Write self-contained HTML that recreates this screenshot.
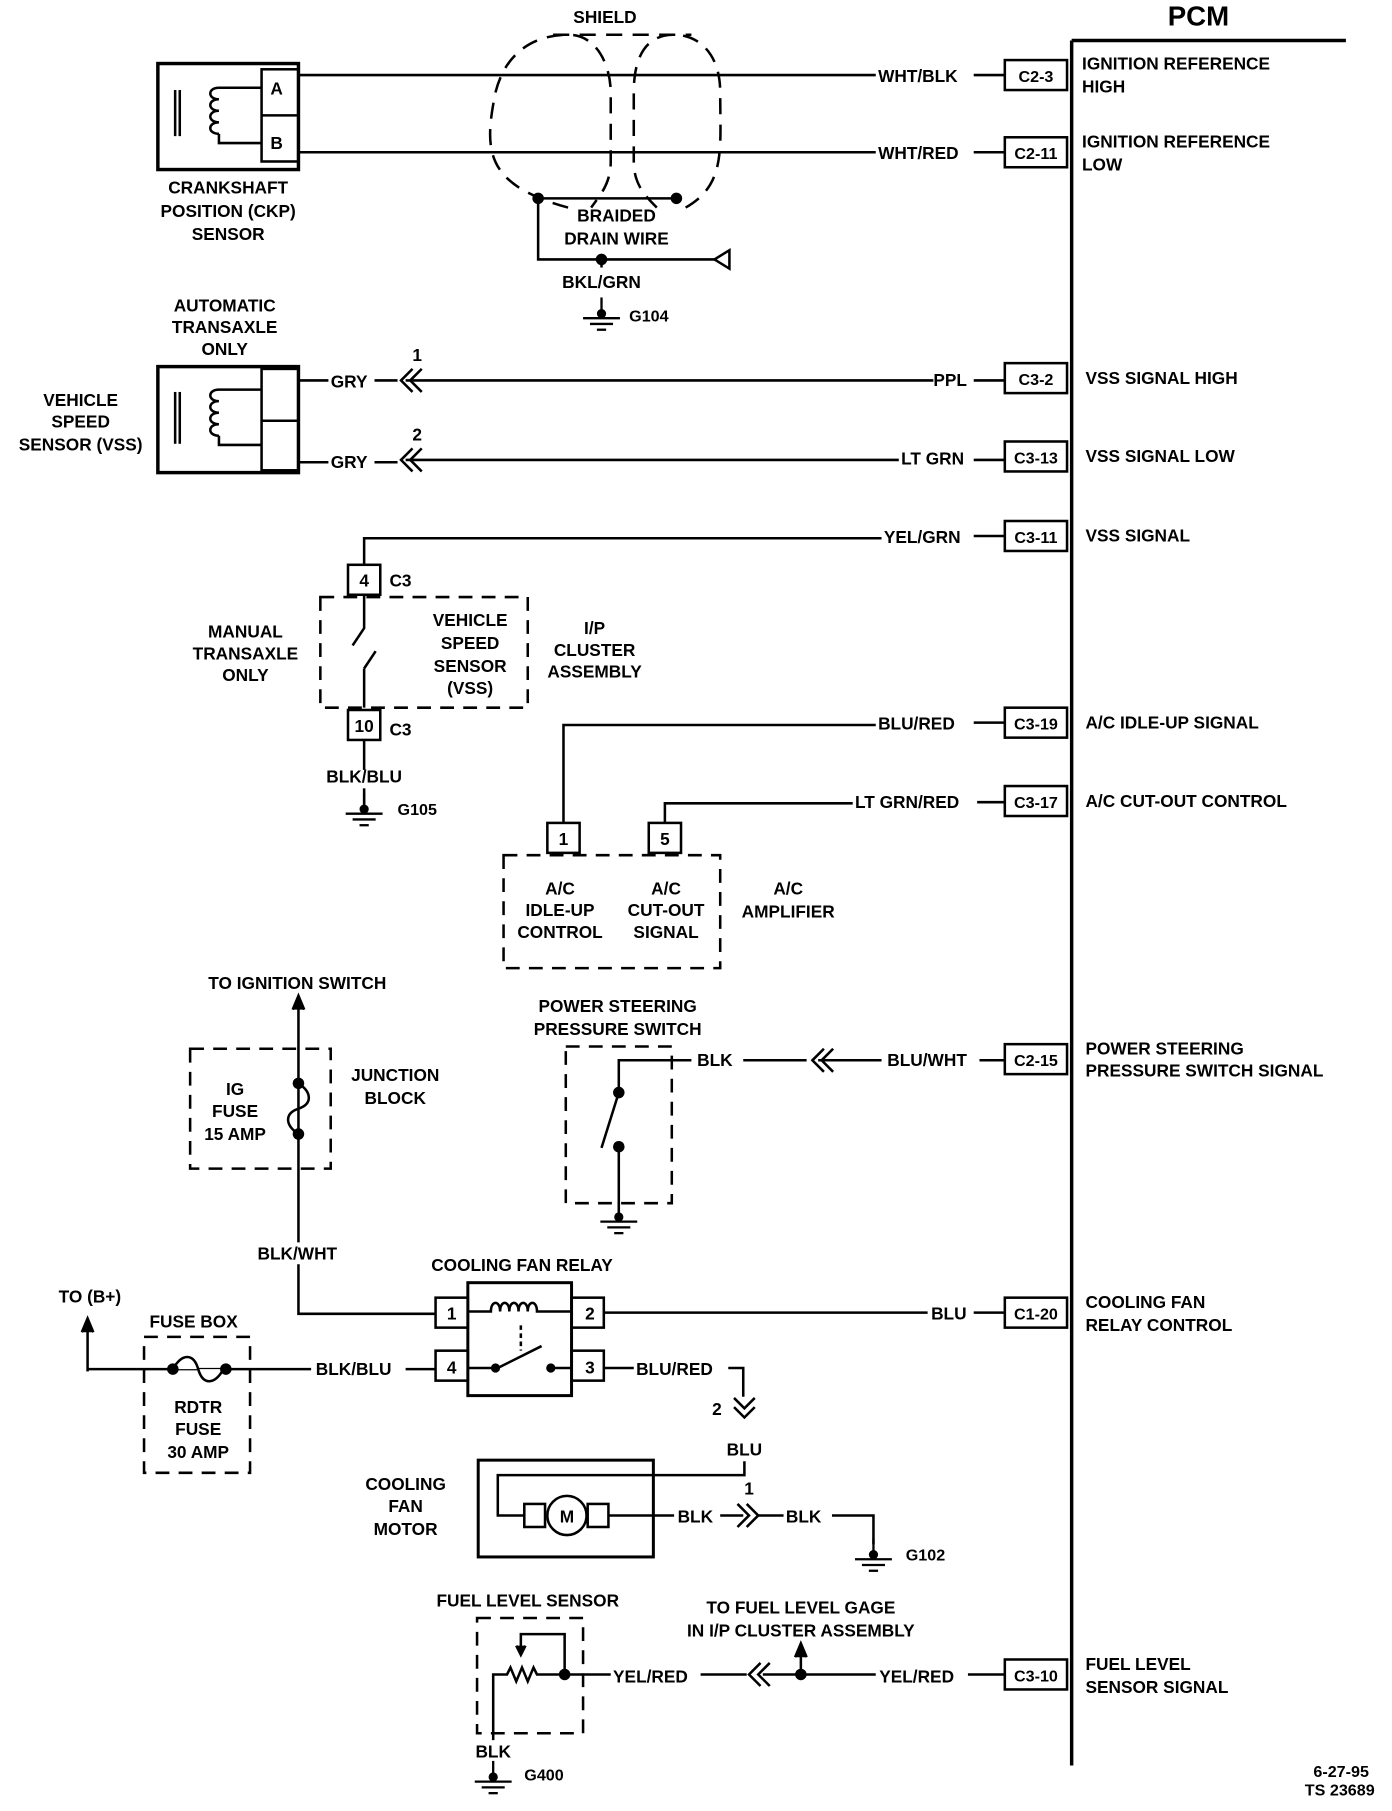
<!DOCTYPE html>
<html><head><style>
html,body{margin:0;padding:0;background:#fff}
svg text{font-family:"Liberation Sans",sans-serif;font-weight:bold;font-size:15px;fill:#000}
svg text.s{font-size:14px}
</style></head><body>
<svg width="1392" height="1806" viewBox="0 0 1208 1567" xmlns="http://www.w3.org/2000/svg">
<defs>
<g id="gnd"><line x1="0" y1="0" x2="0" y2="12" stroke="#000" stroke-width="2"/><circle cx="0" cy="14" r="4"/><line x1="-16" y1="18" x2="16" y2="18" stroke="#000" stroke-width="2"/><line x1="-10" y1="23" x2="10" y2="23" stroke="#000" stroke-width="2"/><line x1="-4" y1="28" x2="4" y2="28" stroke="#000" stroke-width="2"/></g>
</defs>
<g stroke="#000" stroke-width="2.2" fill="none">
<line x1="930" y1="35" x2="930" y2="1532" stroke-width="3"/>
<line x1="930" y1="35" x2="1168" y2="35" stroke-width="3"/>
<rect x="872" y="52" width="54" height="26"/><rect x="872" y="119" width="54" height="26"/>
<rect x="872" y="315" width="54" height="26"/><rect x="872" y="383" width="54" height="26"/>
<rect x="872" y="452" width="54" height="26"/><rect x="872" y="614" width="54" height="26"/>
<rect x="872" y="682" width="54" height="26"/><rect x="872" y="906" width="54" height="26"/>
<rect x="872" y="1126" width="54" height="26"/><rect x="872" y="1440" width="54" height="26"/>
<rect x="137" y="55" width="122" height="92" stroke-width="3"/>
<rect x="227" y="60" width="32" height="80"/><line x1="227" y1="100" x2="259" y2="100"/>
<line x1="152" y1="78" x2="152" y2="118"/><line x1="156" y1="78" x2="156" y2="118"/>
<path d="M227,76 H190 M190,76 c-10,0 -10,10 0,10 c-10,0 -10,10 0,10 c-10,0 -10,10 0,10 c-10,0 -10,10 0,10 M190,116 V124 H227"/>
<line x1="259" y1="65" x2="760" y2="65"/><line x1="845" y1="65" x2="872" y2="65"/>
<line x1="259" y1="132" x2="760" y2="132"/><line x1="845" y1="132" x2="872" y2="132"/>
<g stroke-dasharray="14,9">
<path d="M493,180 C420,160 420,130 430,80 C440,40 470,30 493,30 C520,30 530,60 530,80 V140 C530,160 520,170 513,180"/>
<path d="M595,180 C630,160 625,130 625,80 C625,45 605,30 585,30 C560,30 550,50 550,80 V140 C550,160 560,170 570,180"/>
<line x1="480" y1="30" x2="600" y2="30"/>
</g>
<line x1="467" y1="172" x2="587" y2="172"/>
<path d="M467,172 V225 H630"/>
<line x1="522" y1="225" x2="522" y2="232"/>
<rect x="137" y="318" width="122" height="92" stroke-width="3"/>
<rect x="227" y="320" width="32" height="88"/><line x1="227" y1="365" x2="259" y2="365"/>
<line x1="152" y1="340" x2="152" y2="385"/><line x1="156" y1="340" x2="156" y2="385"/>
<path d="M227,338 H190 M190,338 c-10,0 -10,10 0,10 c-10,0 -10,10 0,10 c-10,0 -10,10 0,10 c-10,0 -10,10 0,10 M190,378 V386 H227"/>
<line x1="259" y1="330" x2="285" y2="330"/><line x1="325" y1="330" x2="345" y2="330"/><line x1="352" y1="330" x2="810" y2="330"/><line x1="845" y1="330" x2="872" y2="330"/>
<path d="M358,320 L348,330 L358,340 M366,320 L356,330 L366,340"/>
<line x1="259" y1="401" x2="285" y2="401"/><line x1="325" y1="401" x2="345" y2="401"/><line x1="352" y1="399" x2="780" y2="399"/><line x1="845" y1="399" x2="872" y2="399"/>
<path d="M358,389 L348,399 L358,409 M366,389 L356,399 L366,409"/>
<path d="M316,490 V467 H765"/><line x1="845" y1="465" x2="872" y2="465"/>
<rect x="302" y="490" width="28" height="26"/>
<rect x="278" y="518" width="180" height="96" stroke-dasharray="12,8"/>
<path d="M316,516 V545 L306,560 M316,614 V580 M316,580 L326,565"/>
<rect x="302" y="616" width="28" height="26"/>
<line x1="316" y1="642" x2="316" y2="668"/>
<line x1="316" y1="684" x2="316" y2="698"/>
<path d="M489,714 V629 H760"/><line x1="845" y1="627" x2="872" y2="627"/>
<path d="M577,714 V697 H740"/><line x1="848" y1="696" x2="872" y2="696"/>
<rect x="475" y="714" width="28" height="26"/><rect x="563" y="714" width="28" height="26"/>
<rect x="437" y="742" width="188" height="98" stroke-dasharray="12,8"/>
<line x1="259" y1="870" x2="259" y2="1078"/>
<path d="M254,876 L259,864 L264,876" fill="#000"/>
<rect x="165" y="910" width="122" height="104" stroke-dasharray="12,8"/>
<path d="M259,940 c12,8 12,18 0,22 c-12,4 -12,14 0,22"/>
<path d="M259,1097 V1140 H378"/>
<rect x="491" y="908" width="92" height="136" stroke-dasharray="12,8"/>
<path d="M537,948 V920 H600"/>
<line x1="645" y1="920" x2="700" y2="920"/><line x1="710" y1="920" x2="765" y2="920"/><line x1="850" y1="920" x2="872" y2="920"/>
<path d="M715,910 L705,920 L715,930 M723,910 L713,920 L723,930"/>
<line x1="537" y1="948" x2="522" y2="996"/>
<line x1="537" y1="995" x2="537" y2="1055"/>
<rect x="406" y="1113" width="90" height="98" stroke-width="2.6"/>
<rect x="378" y="1126" width="28" height="26"/><rect x="496" y="1126" width="28" height="26"/>
<rect x="378" y="1172" width="28" height="26"/><rect x="496" y="1172" width="28" height="26"/>
<path d="M406,1138 H426 c0,-10 8,-10 8,0 c0,-10 8,-10 8,0 c0,-10 8,-10 8,0 c0,-10 8,-10 8,0 c0,-10 8,-10 8,0 V1138 H496"/>
<line x1="452" y1="1150" x2="452" y2="1172" stroke-dasharray="4,3"/>
<path d="M406,1187 H432 L470,1168 M478,1187 H496"/>
<line x1="524" y1="1139" x2="805" y2="1139"/><line x1="845" y1="1139" x2="872" y2="1139"/>
<line x1="76" y1="1150" x2="76" y2="1190"/>
<path d="M71,1156 L76,1144 L81,1156" fill="#000"/>
<line x1="76" y1="1188" x2="270" y2="1188"/><line x1="352" y1="1188" x2="378" y2="1188"/>
<rect x="125" y="1160" width="92" height="118" stroke-dasharray="12,8"/>
<path d="M150,1188 c8,-14 18,-14 22,0 c4,14 14,14 22,0" fill="#fff"/>
<line x1="524" y1="1187" x2="550" y2="1187"/>
<path d="M632,1187 H645 V1212"/>
<path d="M637,1213 L646,1222 L655,1213 M637,1221 L646,1230 L655,1221"/>
<path d="M646,1268 V1280 H432 V1315 H455"/>
<rect x="415" y="1267" width="152" height="84" stroke-width="2.6"/>
<rect x="455" y="1305" width="18" height="20"/><rect x="510" y="1305" width="18" height="20"/>
<circle cx="492" cy="1315" r="17"/>
<line x1="528" y1="1315" x2="585" y2="1315"/><line x1="625" y1="1315" x2="645" y2="1315"/>
<path d="M648,1305 L658,1315 L648,1325 M640,1305 L650,1315 L640,1325"/>
<line x1="658" y1="1315" x2="680" y2="1315"/><path d="M722,1315 H758 V1340"/>
<rect x="414" y="1404" width="92" height="100" stroke-dasharray="12,8"/>
<path d="M490,1453 V1418 H452 V1430"/>
<path d="M448,1428 L452,1436 L456,1428" fill="#000"/>
<path d="M428,1510 V1453 H440 l3,-6 l5,12 l5,-12 l5,12 l5,-12 l3,6 H506"/>
<line x1="506" y1="1453" x2="530" y2="1453"/><line x1="608" y1="1453" x2="648" y2="1453"/>
<path d="M660,1443 L650,1453 L660,1463 M668,1443 L658,1453 L668,1463"/>
<line x1="662" y1="1453" x2="760" y2="1453"/><line x1="840" y1="1453" x2="872" y2="1453"/>
<line x1="695" y1="1453" x2="695" y2="1430"/>
<path d="M690,1438 L695,1426 L700,1438" fill="#000"/>
</g>
<g fill="#000">
<circle cx="467" cy="172" r="5"/><circle cx="587" cy="172" r="5"/><circle cx="522" cy="225" r="5"/>
<path d="M620,225 L633,217 V233 Z" fill="#fff" stroke="#000" stroke-width="2.2"/>
<circle cx="259" cy="940" r="5"/><circle cx="259" cy="984" r="5"/>
<circle cx="537" cy="948" r="5"/><circle cx="537" cy="995" r="5"/>
<circle cx="430" cy="1187" r="4"/><circle cx="478" cy="1187" r="4"/>
<circle cx="150" cy="1188" r="5"/><circle cx="196" cy="1188" r="5"/>
<circle cx="490" cy="1453" r="5"/><circle cx="695" cy="1453" r="5"/>
</g>
<use href="#gnd" x="522" y="258"/>
<use href="#gnd" x="316" y="688"/>
<use href="#gnd" x="537" y="1042"/>
<use href="#gnd" x="758" y="1335"/>
<use href="#gnd" x="428" y="1528"/>
<text x="1040" y="22" text-anchor="middle" style="font-size:24px">PCM</text>
<text x="525" y="20" text-anchor="middle">SHIELD</text>
<text x="240" y="82" text-anchor="middle">A</text><text x="240" y="129" text-anchor="middle">B</text>
<g text-anchor="middle">
<text x="198" y="168">CRANKSHAFT</text><text x="198" y="188">POSITION (CKP)</text><text x="198" y="208">SENSOR</text>
<text x="535" y="192">BRAIDED</text><text x="535" y="212">DRAIN WIRE</text>
<text x="522" y="250">BKL/GRN</text>
<text x="195" y="270">AUTOMATIC</text><text x="195" y="289">TRANSAXLE</text><text x="195" y="308">ONLY</text>
<text x="70" y="352">VEHICLE</text><text x="70" y="371">SPEED</text><text x="70" y="391">SENSOR (VSS)</text>
<text x="362" y="313">1</text><text x="362" y="382">2</text>
<text x="316" y="509">4</text><text x="316" y="635">10</text>
<text x="213" y="553">MANUAL</text><text x="213" y="572">TRANSAXLE</text><text x="213" y="591">ONLY</text>
<text x="408" y="543">VEHICLE</text><text x="408" y="563">SPEED</text><text x="408" y="583">SENSOR</text><text x="408" y="602">(VSS)</text>
<text x="516" y="550">I/P</text><text x="516" y="569">CLUSTER</text><text x="516" y="588">ASSEMBLY</text>
<text x="316" y="679">BLK/BLU</text>
<text x="489" y="733">1</text><text x="577" y="733">5</text>
<text x="486" y="776">A/C</text><text x="486" y="795">IDLE-UP</text><text x="486" y="814">CONTROL</text>
<text x="578" y="776">A/C</text><text x="578" y="795">CUT-OUT</text><text x="578" y="814">SIGNAL</text>
<text x="684" y="776">A/C</text><text x="684" y="796">AMPLIFIER</text>
<text x="258" y="858">TO IGNITION SWITCH</text>
<text x="204" y="950">IG</text><text x="204" y="969">FUSE</text><text x="204" y="989">15 AMP</text>
<text x="343" y="938">JUNCTION</text><text x="343" y="958">BLOCK</text>
<text x="536" y="878">POWER STEERING</text><text x="536" y="898">PRESSURE SWITCH</text>
<text x="258" y="1093">BLK/WHT</text>
<text x="453" y="1103">COOLING FAN RELAY</text>
<text x="392" y="1145">1</text><text x="512" y="1145">2</text><text x="392" y="1192">4</text><text x="512" y="1192">3</text>
<text x="78" y="1130">TO (B+)</text>
<text x="168" y="1152">FUSE BOX</text>
<text x="172" y="1226">RDTR</text><text x="172" y="1245">FUSE</text><text x="172" y="1265">30 AMP</text>
<text x="646" y="1263">BLU</text>
<text x="352" y="1293">COOLING</text><text x="352" y="1312">FAN</text><text x="352" y="1332">MOTOR</text>
<text x="492" y="1321">M</text>
<text x="650" y="1297">1</text>
<text x="458" y="1394">FUEL LEVEL SENSOR</text>
<text x="695" y="1400">TO FUEL LEVEL GAGE</text><text x="695" y="1420">IN I/P CLUSTER ASSEMBLY</text>
<text x="428" y="1525">BLK</text>
</g>
<text x="762" y="71">WHT/BLK</text><text x="762" y="138">WHT/RED</text>
<text x="287" y="336">GRY</text><text x="287" y="406">GRY</text>
<text x="810" y="335">PPL</text><text x="782" y="403">LT GRN</text>
<text x="767" y="471">YEL/GRN</text><text x="762" y="633">BLU/RED</text><text x="742" y="701">LT GRN/RED</text>
<text x="338" y="509">C3</text><text x="338" y="638">C3</text>
<text x="546" y="279" class="s">G104</text><text x="345" y="707" class="s">G105</text>
<text x="605" y="925">BLK</text><text x="770" y="925">BLU/WHT</text>
<text x="808" y="1145">BLU</text>
<text x="274" y="1193">BLK/BLU</text><text x="552" y="1193">BLU/RED</text>
<text x="618" y="1228">2</text>
<text x="588" y="1321">BLK</text><text x="682" y="1321">BLK</text>
<text x="786" y="1354" class="s">G102</text>
<text x="532" y="1460">YEL/RED</text><text x="763" y="1460">YEL/RED</text>
<text x="455" y="1545" class="s">G400</text>
<g text-anchor="middle">
<text class="s" x="899" y="71">C2-3</text><text class="s" x="899" y="138">C2-11</text><text class="s" x="899" y="334">C3-2</text><text class="s" x="899" y="402">C3-13</text>
<text class="s" x="899" y="471">C3-11</text><text class="s" x="899" y="633">C3-19</text><text class="s" x="899" y="701">C3-17</text><text class="s" x="899" y="925">C2-15</text>
<text class="s" x="899" y="1145">C1-20</text><text class="s" x="899" y="1459">C3-10</text>
</g>
<text x="939" y="60">IGNITION REFERENCE</text><text x="939" y="80">HIGH</text>
<text x="939" y="128">IGNITION REFERENCE</text><text x="939" y="148">LOW</text>
<text x="942" y="333">VSS SIGNAL HIGH</text><text x="942" y="401">VSS SIGNAL LOW</text><text x="942" y="470">VSS SIGNAL</text>
<text x="942" y="632">A/C IDLE-UP SIGNAL</text><text x="942" y="700">A/C CUT-OUT CONTROL</text>
<text x="942" y="915">POWER STEERING</text><text x="942" y="934">PRESSURE SWITCH SIGNAL</text>
<text x="942" y="1135">COOLING FAN</text><text x="942" y="1155">RELAY CONTROL</text>
<text x="942" y="1449">FUEL LEVEL</text><text x="942" y="1469">SENSOR SIGNAL</text>
<text x="1188" y="1542" text-anchor="end" class="s">6-27-95</text>
<text x="1193" y="1558" text-anchor="end" class="s">TS 23689</text>
</svg>
</body></html>
